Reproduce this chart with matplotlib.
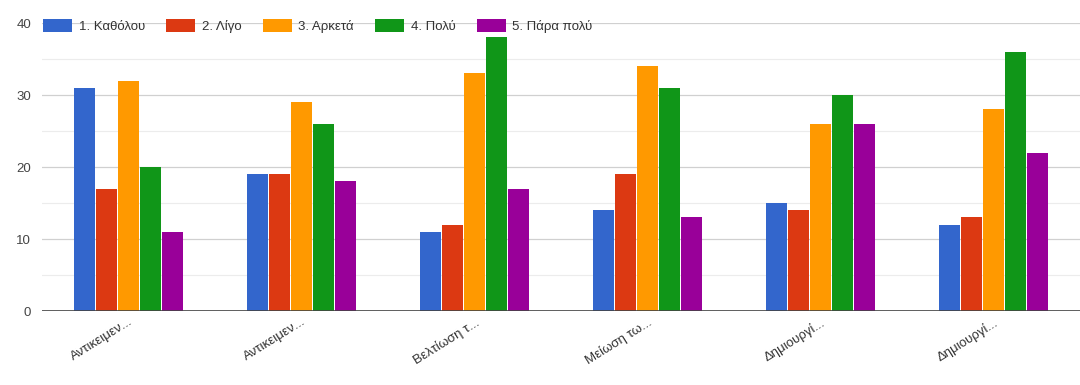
import numpy as np
import matplotlib.pyplot as plt

plt.rcParams['font.family'] = ['Liberation Sans Narrow', 'Liberation Sans', 'DejaVu Sans']

categories = ["Αντικειμεν...", "Αντικειμεν...", "Βελτίωση τ...",
              "Μείωση τω...", "Δημιουργί...", "Δημιουργί..."]
series_names = ["1. Καθόλου", "2. Λίγο", "3. Αρκετά", "4. Πολύ", "5. Πάρα πολύ"]
katholou = [31, 19, 11, 14, 15, 12]
ligo = [17, 19, 12, 19, 14, 13]
arketa = [32, 29, 33, 34, 26, 28]
poly = [20, 26, 38, 31, 30, 36]
para_poly = [11, 18, 17, 13, 26, 22]
colors = ["#3366cc", "#dc3912", "#ff9900", "#109618", "#990099"]

series = [katholou, ligo, arketa, poly, para_poly]

fig = plt.figure(figsize=(10.8, 3.85), dpi=100)
ax = fig.add_axes([0.039, 0.192, 0.961, 0.748])

x = np.arange(len(categories))
bw = 0.122
for i, (vals, name, c) in enumerate(zip(series, series_names, colors)):
    ax.bar(x + (i - 2) * (bw + 0.005), vals, bw, color=c, label=name, zorder=3)

ax.set_xlim(-0.5, len(categories) - 0.5)
ax.set_ylim(0, 40)
ax.set_yticks([0, 10, 20, 30, 40])
ax.set_yticks([5, 15, 25, 35], minor=True)
ax.grid(axis='y', which='major', color='#d0d0d0', lw=0.9, zorder=0)
ax.grid(axis='y', which='minor', color='#ececec', lw=0.8, zorder=0)
ax.axhline(0, color='#444444', lw=1.2, zorder=4)
for s in ax.spines.values():
    s.set_visible(False)
ax.tick_params(axis='both', which='both', length=0, colors='#444444', labelsize=9.5)
ax.tick_params(axis='y', pad=8)
ax.set_xticks(x)
ax.set_xticklabels(categories, rotation=32, ha='right', fontsize=9.5, color='#333333',
                   rotation_mode='anchor')

# legend sits on the top gridline, no box behind it
leg = ax.legend(loc='center left', bbox_to_anchor=(0.0, 0.99), ncol=5, frameon=False,
                fontsize=9.5, handlelength=2.2, handleheight=1.1, columnspacing=1.6,
                handletextpad=0.5, borderaxespad=0, borderpad=0.1)
for t in leg.get_texts():
    t.set_color('#333333')

fig.savefig('out.png', dpi=100)
